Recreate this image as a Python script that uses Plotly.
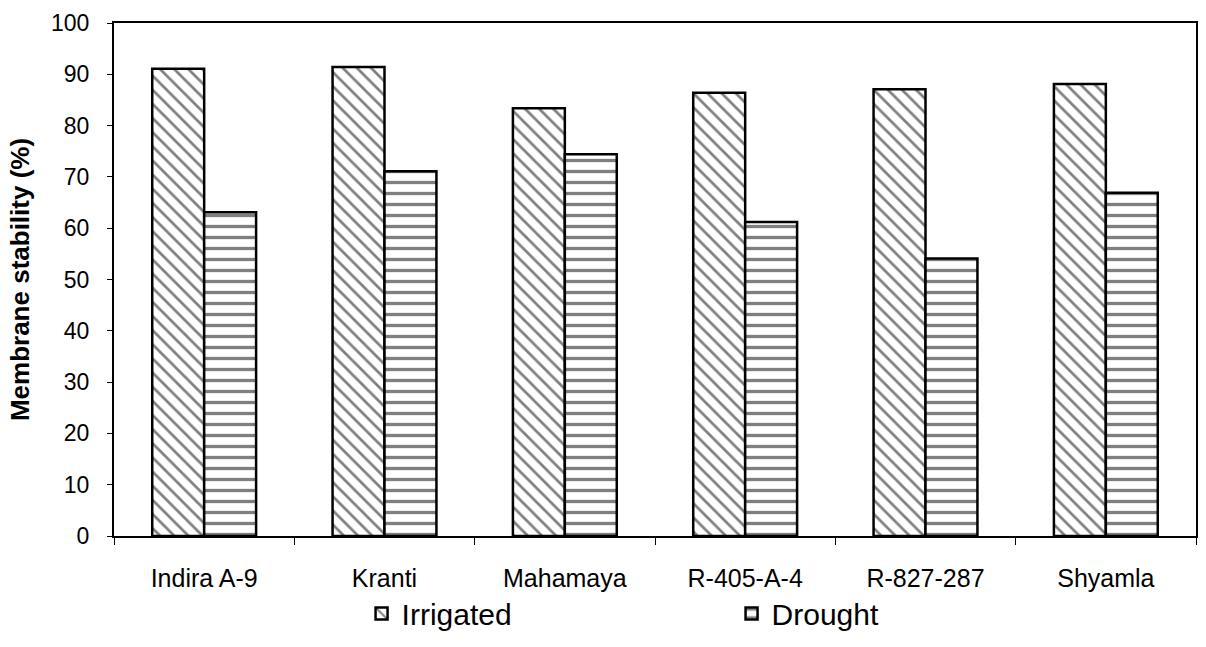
import plotly.graph_objects as go

categories = ["Indira A-9", "Kranti", "Mahamaya", "R-405-A-4", "R-827-287", "Shyamla"]
irrigated = [91.1, 91.4, 83.4, 86.4, 87.1, 88.1]
drought = [63.1, 71.1, 74.4, 61.2, 54.1, 66.9]
y_ticks = [0, 10, 20, 30, 40, 50, 60, 70, 80, 90, 100]

FONT = "Arial, Liberation Sans, sans-serif"

fig = go.Figure()
fig.add_trace(go.Bar(
    name="Irrigated", x=categories, y=irrigated,
    marker=dict(color="white", line=dict(color="black", width=2.5),
                pattern=dict(shape="\\", fgcolor="black", bgcolor="white",
                             size=10, solidity=0.27)),
))
fig.add_trace(go.Bar(
    name="Drought", x=categories, y=drought,
    marker=dict(color="white", line=dict(color="black", width=2.5),
                pattern=dict(shape="-", fgcolor="black", bgcolor="white",
                             size=11, solidity=0.3)),
))

fig.update_layout(
    width=1206, height=647,
    margin=dict(l=114, r=8, t=23, b=95),
    paper_bgcolor="white", plot_bgcolor="white",
    barmode="group", bargap=0.424, bargroupgap=0,
    font=dict(family=FONT, color="black", size=23),
    showlegend=True,
    legend=dict(orientation="h", x=0.2288, xanchor="left", y=-0.151, yanchor="middle",
                entrywidth=325, entrywidthmode="pixels",
                font=dict(size=30, family=FONT), bgcolor="rgba(0,0,0,0)",
                itemwidth=30, tracegroupgap=0),
)
fig.update_yaxes(
    range=[0, 100], tickvals=y_ticks, ticktext=[str(v) for v in y_ticks],
    showgrid=False, zeroline=False,
    showline=True, linecolor="black", linewidth=2, mirror=True,
    ticks="outside", ticklen=5, tickwidth=1, tickcolor="black",
    ticklabelstandoff=13,
    tickfont=dict(size=23, family=FONT),
    title=dict(text="<b>Membrane stability (%)</b>", font=dict(size=26, family=FONT), standoff=14),
)
fig.update_xaxes(
    showgrid=False, zeroline=False,
    showline=True, linecolor="black", linewidth=2, mirror=True,
    ticks="outside", tickson="boundaries", ticklen=7, tickwidth=1, tickcolor="black",
    ticklabelstandoff=19,
    tickfont=dict(size=25, family=FONT),
)

fig.write_html("out.html")
